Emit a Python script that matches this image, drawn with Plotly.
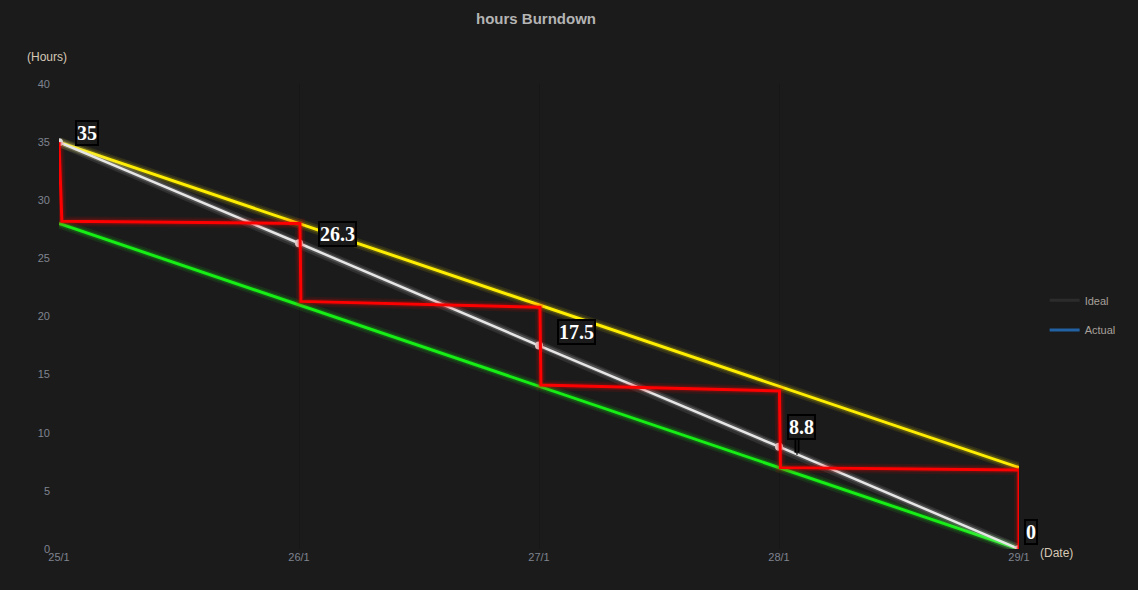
import plotly.graph_objects as go

# ---- data ----
dates = ["25/1", "26/1", "27/1", "28/1", "29/1"]
ideal = [35, 26.3, 17.5, 8.8, 0]
upper = [35, 28, 21, 14, 7]
lower = [28, 21, 14, 7, 0]
actual_x = [0, 0.012, 1.004, 1.008, 2.004, 2.008, 3.002, 3.006, 4.0, 4.0]
actual_y = [35, 28.2, 28.0, 21.3, 20.8, 14.1, 13.6, 7.0, 6.8, 0]
label_text = ["35", "26.3", "17.5", "8.8", "0"]
# label placement (style): offsets in px of box left/bottom from the point
label_dx = [16, 19, 18, 8, 5]
label_dy = [-4, -4, 1, 7, 4]

BG = "#1b1b1b"
xi = list(range(len(dates)))

fig = go.Figure()


def glow_line(x, y, color, width):
    fig.add_trace(go.Scatter(x=x, y=y, mode="lines", showlegend=False, hoverinfo="skip",
                             line=dict(color=color, width=width + 7), opacity=0.10))
    fig.add_trace(go.Scatter(x=x, y=y, mode="lines", showlegend=False, hoverinfo="skip",
                             line=dict(color=color, width=width + 3), opacity=0.18))
    fig.add_trace(go.Scatter(x=x, y=y, mode="lines", showlegend=False,
                             line=dict(color=color, width=width)))


glow_line(xi, lower, "#16ee16", 3)
glow_line(xi, upper, "#ffee00", 3)
glow_line(xi, ideal, "#e6e6e6", 2.5)
fig.add_trace(go.Scatter(x=xi, y=ideal, mode="markers", showlegend=False,
                         marker=dict(color="#dcdcdc", size=8)))
glow_line(actual_x, actual_y, "#ff0000", 3)

# legend-only entries
fig.add_trace(go.Scatter(x=[None], y=[None], mode="lines", name="Ideal", legend="legend",
                         line=dict(color="#2c2c2c", width=3)))
fig.add_trace(go.Scatter(x=[None], y=[None], mode="lines", name="Actual", legend="legend2",
                         line=dict(color="#2262a4", width=3)))

annotations = []
# small label pointer under the 8.8 label
annotations.append(dict(x=xi[3], y=ideal[3], xref="x", yref="y", text="", showarrow=True,
                        arrowhead=0, arrowwidth=5, arrowcolor="#000000", ax=0, ay=-24,
                        xshift=18, yshift=-6))
annotations.append(dict(x=xi[3], y=ideal[3], xref="x", yref="y", text="", showarrow=True,
                        arrowhead=0, arrowwidth=1.5, arrowcolor=BG, ax=0, ay=-20,
                        xshift=18, yshift=-8))
for i, t in enumerate(label_text):
    annotations.append(dict(
        x=xi[i], y=ideal[i], xref="x", yref="y", text="<b>%s</b>" % t,
        showarrow=False, xanchor="left", yanchor="bottom",
        xshift=label_dx[i], yshift=label_dy[i],
        font=dict(family="Liberation Serif", size=20, color="#ffffff"),
        bordercolor="#000000", borderwidth=2, borderpad=0, bgcolor=BG,
    ))

annotations.append(dict(x=0, y=1, xref="paper", yref="paper", text="(Hours)",
                        showarrow=False, xanchor="center", yanchor="bottom",
                        xshift=-12, yshift=18,
                        font=dict(family="Arial", size=12, color="#d6c8b6")))
annotations.append(dict(x=1, y=0, xref="paper", yref="paper", text="(Date)",
                        showarrow=False, xanchor="left", yanchor="middle",
                        xshift=19, yshift=-4,
                        font=dict(family="Arial", size=12, color="#d6c8b6")))

leg_common = dict(x=1.0267, xanchor="left", yanchor="middle", xref="paper",
                  font=dict(family="Arial", size=11, color="#a7a09a"),
                  bgcolor="rgba(0,0,0,0)", itemwidth=30)

fig.update_layout(
    width=1138, height=590,
    paper_bgcolor=BG, plot_bgcolor=BG,
    margin=dict(l=59, r=119, t=84, b=41, autoexpand=False),
    title=dict(text="<b>hours Burndown</b>", x=0.471, xanchor="center", y=0.968, yanchor="middle",
               font=dict(family="Arial", size=15, color="#b4b4b4")),
    xaxis=dict(range=[0, 4], tickmode="array", tickvals=xi, ticktext=dates,
               showgrid=True, gridcolor="#171717", gridwidth=1, zeroline=False,
               showline=False, ticks="", tickfont=dict(family="Arial", size=11, color="#7f8490")),
    yaxis=dict(range=[0, 40], dtick=5, showgrid=False, zeroline=False, showline=False,
               ticks="", ticklabelstandoff=8,
               tickfont=dict(family="Arial", size=11, color="#7f8490")),
    legend=dict(y=0.535, **leg_common),
    legend2=dict(y=0.471, **leg_common),
    annotations=annotations,
    showlegend=True,
)

fig.write_html("out.html", config={"displayModeBar": False},
               post_script="document.body.style.margin='0';document.body.style.background='%s';" % BG)
